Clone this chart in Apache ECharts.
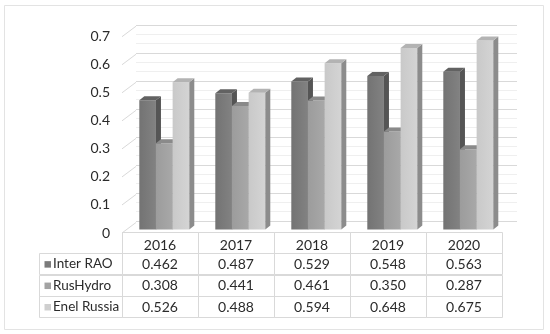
<!DOCTYPE html>
<html><head><meta charset="utf-8">
<script src="https://cdn.jsdelivr.net/npm/echarts@6/dist/echarts.min.js"></script>
<style>html,body{margin:0;padding:0;background:#fff}#c{width:550px;height:334px}</style>
</head><body><div id="c"></div>
<script>
// ---- data ----
const years = ['2016', '2017', '2018', '2019', '2020'];
const seriesNames = ['Inter RAO', 'RusHydro', 'Enel Russia'];
const interRAO = [0.462, 0.487, 0.529, 0.548, 0.563];
const rusHydro = [0.308, 0.441, 0.461, 0.350, 0.287];
const enelRussia = [0.526, 0.488, 0.594, 0.648, 0.675];
const yTicks = [0, 0.1, 0.2, 0.3, 0.4, 0.5, 0.6, 0.7];

const values = [interRAO, rusHydro, enelRussia];
const FONT = '14px Lato';
const LEG_FONT = '13.5px Lato';
const TXT = '#2b2b2b';
const GRID_LINE = '#d9d9d9';
const palette = [
  { front: ['#737373', '#828282'], side: '#555555', top: '#626262', key: '#7b7b7b' },
  { front: ['#9c9c9c', '#a8a8a8'], side: '#7a7a7a', top: '#8a8a8a', key: '#a3a3a3' },
  { front: ['#c9c9c9', '#d4d4d4'], side: '#8c8c8c', top: '#b3b3b3', key: '#cfcfcf' }
];
const DX = 5, DY = 4;           // bar depth
const WX = 14, WY = 10.5;       // wall depth
const crisp = v => Math.round(v) + 0.5;

function barSeries(s) {
  return {
    type: 'custom', name: seriesNames[s], xAxisIndex: 2, yAxisIndex: 2, z: 5,
    data: years.map((y, i) => [i, values[s][i]]),
    renderItem: function (params, api) {
      const c = api.value(0), v = api.value(1);
      const b = api.coord([c, 0]);
      const t = api.coord([c, v]);
      const cw = api.size([1, 0])[0];
      const bw = cw * 0.2193;
      const x0 = b[0] + (s - 1.5) * bw, x1 = x0 + bw;
      const yB = b[1], yT = t[1];
      const p = palette[s];
      return {
        type: 'group',
        children: [
          { type: 'rect', shape: { x: x0, y: yT, width: bw, height: yB - yT },
            style: { fill: new echarts.graphic.LinearGradient(0, 0, 1, 0, [
              { offset: 0, color: p.front[0] }, { offset: 1, color: p.front[1] }]) } },
          { type: 'polygon', shape: { points: [[x1, yT], [x1 + DX, yT - DY], [x1 + DX, yB - DY], [x1, yB]] },
            style: { fill: p.side } },
          { type: 'polygon', shape: { points: [[x0, yT], [x1, yT], [x1 + DX, yT - DY], [x0 + DX, yT - DY]] },
            style: { fill: p.top } }
        ]
      };
    }
  };
}

const tableRows = [''].concat(seriesNames);
const headerData = years.map((y, i) => [i, 0, i]);
const bodyData = [];
values.forEach((arr, r) => arr.forEach((v, i) => bodyData.push([i, r + 1, v])));
const legendData = seriesNames.map((n, r) => [0, r + 1, r]);

const option = {
  animation: false,
  backgroundColor: '#ffffff',
  graphic: [{
    type: 'rect', shape: { x: 4.5, y: 5.5, width: 539, height: 324 },
    style: { fill: 'none', stroke: '#e3e3e3', lineWidth: 1 }, z: 0
  }],
  grid: [
    { left: 122, right: 48, top: 36.7, bottom: 101 },     // front wall (labels)
    { left: 136, right: 33, top: 25, bottom: 113 },       // back wall
    { left: 126.3, right: 43.7, top: 33.5, bottom: 104.5 }, // bars
    { left: 122, right: 48, top: 232, bottom: 16.3 }      // table
  ],
  xAxis: [
    { gridIndex: 0, type: 'value', min: 0, max: 1, show: false },
    { gridIndex: 1, type: 'value', min: 0, max: 1, show: false },
    { gridIndex: 2, type: 'category', data: years, show: false },
    { gridIndex: 3, type: 'category', data: years, show: false }
  ],
  yAxis: [
    { gridIndex: 0, type: 'value', min: 0, max: 0.7, interval: 0.1,
      axisLine: { show: false }, axisTick: { show: false }, splitLine: { show: false },
      axisLabel: { margin: 12, color: TXT, fontFamily: 'Lato', fontSize: 14,
        formatter: v => String(Math.round(v * 10) / 10) } },
    { gridIndex: 1, type: 'value', min: 0, max: 0.7, interval: 0.1,
      axisLine: { show: false }, axisTick: { show: false }, axisLabel: { show: false },
      splitLine: { show: true, lineStyle: { color: GRID_LINE, width: 1 } },
      minorTick: { show: false, splitNumber: 3 },
      minorSplitLine: { show: true, lineStyle: { color: '#efefef', width: 1 } } },
    { gridIndex: 2, type: 'value', min: 0, max: 0.7, interval: 0.1, show: false },
    { gridIndex: 3, type: 'category', data: tableRows, inverse: true, show: false }
  ],
  series: [
    { // side wall diagonals
      type: 'custom', xAxisIndex: 0, yAxisIndex: 0, z: 1,
      data: yTicks.map(v => [0, v]),
      renderItem: function (params, api) {
        const p = api.coord([0, api.value(1)]);
        return { type: 'line', shape: { x1: p[0], y1: p[1], x2: p[0] + WX, y2: p[1] - WY },
          style: { stroke: GRID_LINE, lineWidth: 1 } };
      }
    },
    barSeries(0), barSeries(1), barSeries(2),
    { // header cells
      type: 'custom', xAxisIndex: 3, yAxisIndex: 3, z: 3,
      data: headerData,
      renderItem: function (params, api) {
        const p = api.coord([api.value(0), api.value(1)]);
        const sz = api.size([1, 1]);
        const x0 = crisp(p[0] - sz[0] / 2), y0 = crisp(p[1] - sz[1] / 2);
        return { type: 'group', children: [
          { type: 'rect', shape: { x: x0, y: y0, width: Math.round(sz[0]), height: Math.round(sz[1]) },
            style: { fill: 'none', stroke: GRID_LINE, lineWidth: 1 } },
          { type: 'text', style: { text: years[api.value(2)], x: p[0], y: p[1] + 2.5,
            align: 'center', verticalAlign: 'middle', font: FONT, fill: TXT } }
        ] };
      }
    },
    { // body cells
      type: 'custom', xAxisIndex: 3, yAxisIndex: 3, z: 3,
      data: bodyData,
      renderItem: function (params, api) {
        const p = api.coord([api.value(0), api.value(1)]);
        const sz = api.size([1, 1]);
        const x0 = crisp(p[0] - sz[0] / 2), y0 = crisp(p[1] - sz[1] / 2);
        return { type: 'group', children: [
          { type: 'rect', shape: { x: x0, y: y0, width: Math.round(sz[0]), height: Math.round(sz[1]) },
            style: { fill: 'none', stroke: GRID_LINE, lineWidth: 1 } },
          { type: 'text', style: { text: api.value(2).toFixed(3), x: p[0], y: p[1],
            align: 'center', verticalAlign: 'middle', font: FONT, fill: TXT } }
        ] };
      }
    },
    { // legend cells
      type: 'custom', xAxisIndex: 3, yAxisIndex: 3, z: 3,
      data: legendData,
      renderItem: function (params, api) {
        const r = api.value(2);
        const p = api.coord([0, api.value(1)]);
        const sz = api.size([1, 1]);
        const right = crisp(p[0] - sz[0] / 2);
        const left = right - 83;
        const y0 = crisp(p[1] - sz[1] / 2);
        return { type: 'group', children: [
          { type: 'rect', shape: { x: left, y: y0, width: 83, height: Math.round(sz[1]) },
            style: { fill: 'none', stroke: GRID_LINE, lineWidth: 1 } },
          { type: 'rect', shape: { x: left + 5, y: p[1] - 3, width: 6.5, height: 6.5 },
            style: { fill: palette[r].key } },
          { type: 'text', style: { text: seriesNames[r], x: left + 13.5, y: p[1],
            align: 'left', verticalAlign: 'middle', font: LEG_FONT, fill: TXT } }
        ] };
      }
    }
  ]
};
const chart = echarts.init(document.getElementById('c'), null, { renderer: 'canvas' });
chart.setOption(option);
</script>
</body></html>
